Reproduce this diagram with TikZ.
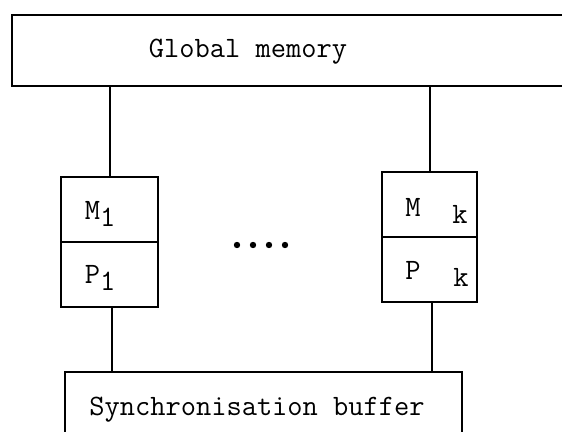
\documentclass[tikz,border=0pt]{standalone}
\tikzset{
	box/.style={draw, line width=1pt, rectangle, inner sep=0pt},
	txt/.style={font=\ttfamily\fontsize{14.8}{17}\selectfont, inner sep=0pt}
}
\begin{document}
\begin{tikzpicture}[x=0.5pt, y=-0.5pt, line width=1pt]
		\clip ( 0, 0 ) rectangle ( 562, 432 );

		% global memory
		\node [box, minimum width=282pt, minimum height=35.5pt] (gm) at ( 293.5, 50.5 ) {};
		\node [txt] (gmlab) at ( 248, 52 ) {Global memory};

		% processor 1
		\node [box, minimum width=48.5pt, minimum height=32.5pt] (m1) at ( 109.5, 209.5 ) {};
		\node [box, minimum width=48.5pt, minimum height=32.5pt] (p1) at ( 109.5, 274.5 ) {};
		\node [txt] (m1lab) at ( 100, 214 ) {M\raisebox{-0.6ex}{1}};
		\node [txt] (p1lab) at ( 100, 278 ) {P\raisebox{-0.6ex}{1}};

		% processor k
		\node [box, minimum width=47.5pt, minimum height=32.5pt] (mk) at ( 429.5, 204.5 ) {};
		\node [box, minimum width=47.5pt, minimum height=32.5pt] (pk) at ( 429.5, 269.5 ) {};
		\node [txt] (mklab) at ( 413, 207 ) {M};
		\node [txt] (mksub) at ( 460, 214 ) {k};
		\node [txt] (pklab) at ( 413, 270 ) {P};
		\node [txt] (pksub) at ( 461, 277 ) {k};

		% dots
		\foreach \x in {237, 253, 269, 285}
			\fill ( \x, 245 ) circle ( 3.2 );

		% synchronisation buffer
		\node [box, minimum width=198.5pt, minimum height=40pt] (sb) at ( 263.5, 412 ) {};
		\node [txt] (sblab) at ( 257, 410 ) {Synchronisation buffer};

		% links
		\draw (m1.north) -- (m1.north |- gm.south);
		\draw (mk.north) -- (mk.north |- gm.south);
		\draw ([xshift=1.25pt]p1.south) -- ([xshift=1.25pt]p1.south |- sb.north);
		\draw ([xshift=1pt]pk.south) -- ([xshift=1pt]pk.south |- sb.north);
	\end{tikzpicture}
\end{document}
